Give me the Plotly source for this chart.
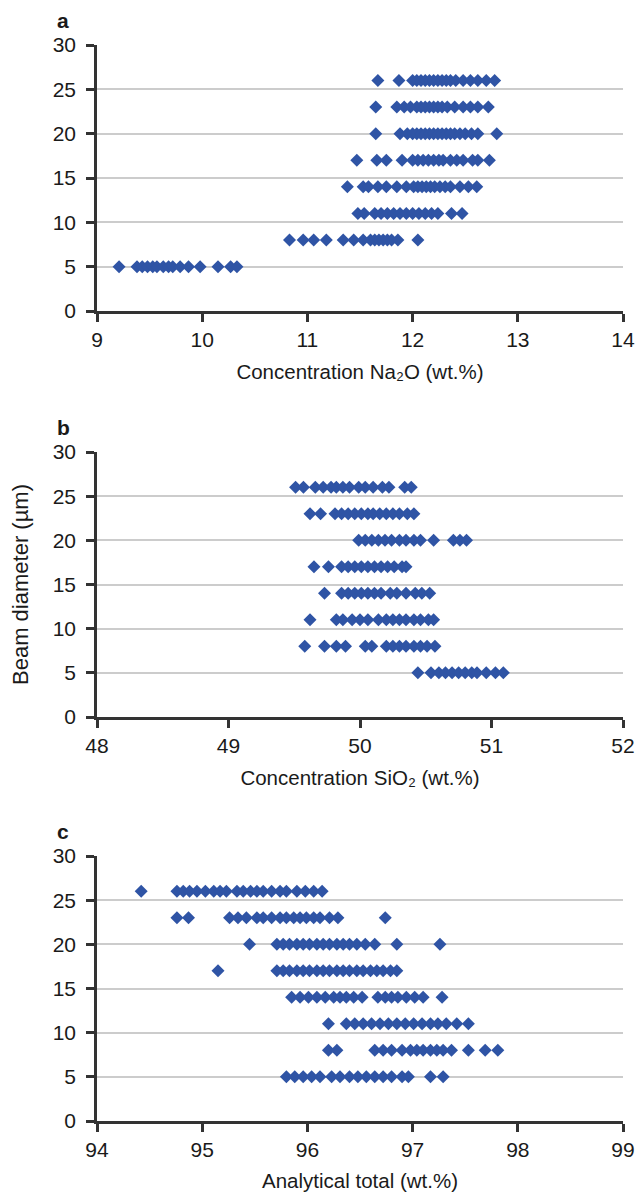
import plotly.graph_objects as go

W, H = 638, 1192

beam_levels = [5, 8, 11, 14, 17, 20, 23, 26]

# Panel a: Na2O concentration per beam diameter level
na2o_5 = [9.21, 9.38, 9.43, 9.48, 9.53, 9.57, 9.63, 9.68, 9.72, 9.79, 9.87, 9.98, 10.15, 10.27, 10.33]
na2o_8 = [10.83, 10.96, 11.06, 11.18, 11.34, 11.44, 11.53, 11.60, 11.64, 11.68, 11.72, 11.76, 11.80, 11.86, 12.05]
na2o_11 = [11.48, 11.54, 11.64, 11.70, 11.76, 11.82, 11.88, 11.94, 12.00, 12.06, 12.12, 12.18, 12.24, 12.37, 12.47]
na2o_14 = [11.38, 11.53, 11.58, 11.67, 11.75, 11.85, 11.94, 12.01, 12.05, 12.09, 12.13, 12.17, 12.21, 12.26, 12.31, 12.36, 12.45, 12.53, 12.61]
na2o_17 = [11.47, 11.66, 11.75, 11.90, 12.00, 12.05, 12.10, 12.15, 12.20, 12.25, 12.29, 12.36, 12.42, 12.48, 12.57, 12.62, 12.73]
na2o_20 = [11.65, 11.88, 11.95, 12.00, 12.04, 12.08, 12.12, 12.16, 12.20, 12.24, 12.28, 12.32, 12.36, 12.40, 12.45, 12.50, 12.56, 12.62, 12.80]
na2o_23 = [11.65, 11.85, 11.92, 11.98, 12.04, 12.08, 12.12, 12.16, 12.20, 12.24, 12.28, 12.33, 12.40, 12.48, 12.55, 12.62, 12.72]
na2o_26 = [11.67, 11.87, 12.00, 12.04, 12.08, 12.12, 12.16, 12.20, 12.24, 12.28, 12.32, 12.36, 12.41, 12.48, 12.55, 12.62, 12.70, 12.78]

# Panel b: SiO2 concentration per beam diameter level
sio2_5 = [50.44, 50.54, 50.60, 50.65, 50.70, 50.75, 50.80, 50.85, 50.89, 50.96, 51.03, 51.09]
sio2_8 = [49.58, 49.73, 49.82, 49.89, 50.04, 50.09, 50.20, 50.25, 50.30, 50.35, 50.41, 50.46, 50.51, 50.57]
sio2_11 = [49.62, 49.82, 49.87, 49.94, 50.00, 50.06, 50.14, 50.20, 50.25, 50.30, 50.35, 50.41, 50.46, 50.52, 50.56]
sio2_14 = [49.73, 49.86, 49.91, 49.96, 50.01, 50.06, 50.11, 50.16, 50.23, 50.28, 50.35, 50.42, 50.47, 50.53]
sio2_17 = [49.65, 49.76, 49.86, 49.91, 49.96, 50.01, 50.06, 50.11, 50.16, 50.21, 50.26, 50.32, 50.35]
sio2_20 = [49.99, 50.04, 50.09, 50.14, 50.19, 50.24, 50.30, 50.35, 50.41, 50.46, 50.56, 50.71, 50.76, 50.81]
sio2_23 = [49.62, 49.70, 49.81, 49.86, 49.91, 49.96, 50.01, 50.06, 50.10, 50.15, 50.20, 50.25, 50.30, 50.36, 50.41]
sio2_26 = [49.51, 49.57, 49.66, 49.72, 49.78, 49.82, 49.87, 49.92, 49.99, 50.04, 50.10, 50.17, 50.22, 50.34, 50.39]

# Panel c: analytical total per beam diameter level
total_5 = [95.80, 95.88, 95.96, 96.04, 96.12, 96.23, 96.31, 96.40, 96.48, 96.56, 96.64, 96.72, 96.80, 96.90, 96.96, 97.17, 97.29]
total_8 = [96.20, 96.28, 96.64, 96.72, 96.80, 96.90, 96.98, 97.04, 97.10, 97.17, 97.23, 97.29, 97.37, 97.53, 97.69, 97.81]
total_11 = [96.20, 96.37, 96.45, 96.53, 96.61, 96.69, 96.77, 96.85, 96.93, 97.01, 97.09, 97.17, 97.24, 97.32, 97.42, 97.53]
total_14 = [95.85, 95.93, 96.01, 96.09, 96.17, 96.25, 96.31, 96.37, 96.44, 96.52, 96.67, 96.74, 96.80, 96.86, 96.94, 97.02, 97.10, 97.28]
total_17 = [95.15, 95.71, 95.77, 95.83, 95.90, 95.96, 96.02, 96.09, 96.15, 96.21, 96.28, 96.34, 96.40, 96.47, 96.53, 96.60, 96.66, 96.72, 96.79, 96.85]
total_20 = [95.45, 95.71, 95.77, 95.83, 95.90, 95.96, 96.02, 96.09, 96.15, 96.21, 96.28, 96.34, 96.40, 96.47, 96.55, 96.64, 96.85, 97.26]
total_23 = [94.76, 94.87, 95.26, 95.34, 95.42, 95.52, 95.58, 95.66, 95.74, 95.80, 95.87, 95.93, 95.99, 96.06, 96.12, 96.21, 96.29, 96.74]
total_26 = [94.42, 94.76, 94.82, 94.88, 94.95, 95.03, 95.11, 95.17, 95.23, 95.33, 95.39, 95.46, 95.52, 95.58, 95.66, 95.74, 95.80, 95.90, 95.98, 96.06, 96.14]

na2o_rows = [na2o_5, na2o_8, na2o_11, na2o_14, na2o_17, na2o_20, na2o_23, na2o_26]
sio2_rows = [sio2_5, sio2_8, sio2_11, sio2_14, sio2_17, sio2_20, sio2_23, sio2_26]
total_rows = [total_5, total_8, total_11, total_14, total_17, total_20, total_23, total_26]

x_titles = ["Concentration Na\u2082O (wt.%)",
            "Concentration SiO\u2082 (wt.%)",
            "Analytical total (wt.%)"]
x_ranges = [[9, 14], [48, 52], [94, 99]]
x_ticks = [[9, 10, 11, 12, 13, 14], [48, 49, 50, 51, 52], [94, 95, 96, 97, 98, 99]]
y_ticks = [0, 5, 10, 15, 20, 25, 30]
panel_labels = ["a", "b", "c"]

FONT = "Liberation Sans, Arial, sans-serif"
TXT = "#1a1a1a"
AX = "#333333"
BLUE = "#2f54a5"

# plot area pixel boxes (top, bottom)
boxes = [(45, 311), (452, 717), (856, 1121)]
left_px, right_px = 97, 623

fig = go.Figure()

def flat(rows):
    xs, ys = [], []
    for lvl, r in zip(beam_levels, rows):
        xs += r
        ys += [lvl] * len(r)
    return xs, ys

for i, rows in enumerate([na2o_rows, sio2_rows, total_rows]):
    xs, ys = flat(rows)
    sfx = "" if i == 0 else str(i + 1)
    fig.add_trace(go.Scatter(
        x=xs, y=ys, mode="markers",
        marker=dict(symbol="diamond", size=10, color=BLUE, line=dict(width=0)),
        xaxis="x" + sfx, yaxis="y" + sfx, showlegend=False, hoverinfo="skip"))

layout = dict(
    width=W, height=H,
    margin=dict(l=0, r=0, t=0, b=0, pad=0),
    paper_bgcolor="white", plot_bgcolor="white",
    font=dict(family=FONT, size=20, color=TXT),
    showlegend=False,
)

annotations = []
for i in range(3):
    top, bot = boxes[i]
    sfx = "" if i == 0 else str(i + 1)
    ydom = [1 - bot / H, 1 - top / H]
    xdom = [left_px / W, right_px / W]
    layout["xaxis" + sfx] = dict(
        domain=xdom, anchor="y" + sfx, range=x_ranges[i],
        tickmode="array", tickvals=x_ticks[i],
        showline=True, linecolor=AX, linewidth=2.5,
        ticks="outside", ticklen=8, tickwidth=2.5, tickcolor=AX,
        showgrid=False, zeroline=False, automargin=False,
        tickfont=dict(size=21, color=TXT), ticklabelstandoff=0,
        title=dict(text=x_titles[i], font=dict(size=20.5, color=TXT), standoff=15),
    )
    layout["yaxis" + sfx] = dict(
        domain=ydom, anchor="x" + sfx, range=[0, 30],
        tickmode="array", tickvals=y_ticks,
        showline=True, linecolor=AX, linewidth=2.5,
        ticks="outside", ticklen=8, tickwidth=2.5, tickcolor=AX,
        showgrid=True, gridcolor="#cccccc", gridwidth=1.5,
        zeroline=False, automargin=False,
        tickfont=dict(size=21, color=TXT), ticklabelstandoff=6,
    )
    annotations.append(dict(
        text="<b>%s</b>" % panel_labels[i], xref="paper", yref="paper",
        x=55 / W, y=1 - (top - 11) / H, xanchor="left", yanchor="bottom",
        showarrow=False, font=dict(size=21, color=TXT)))

layout["yaxis2"]["title"] = dict(text="Beam diameter (µm)", font=dict(size=22, color=TXT), standoff=18)

fig.update_layout(**layout)
fig.update_layout(annotations=annotations)
fig.write_html("out.html")
